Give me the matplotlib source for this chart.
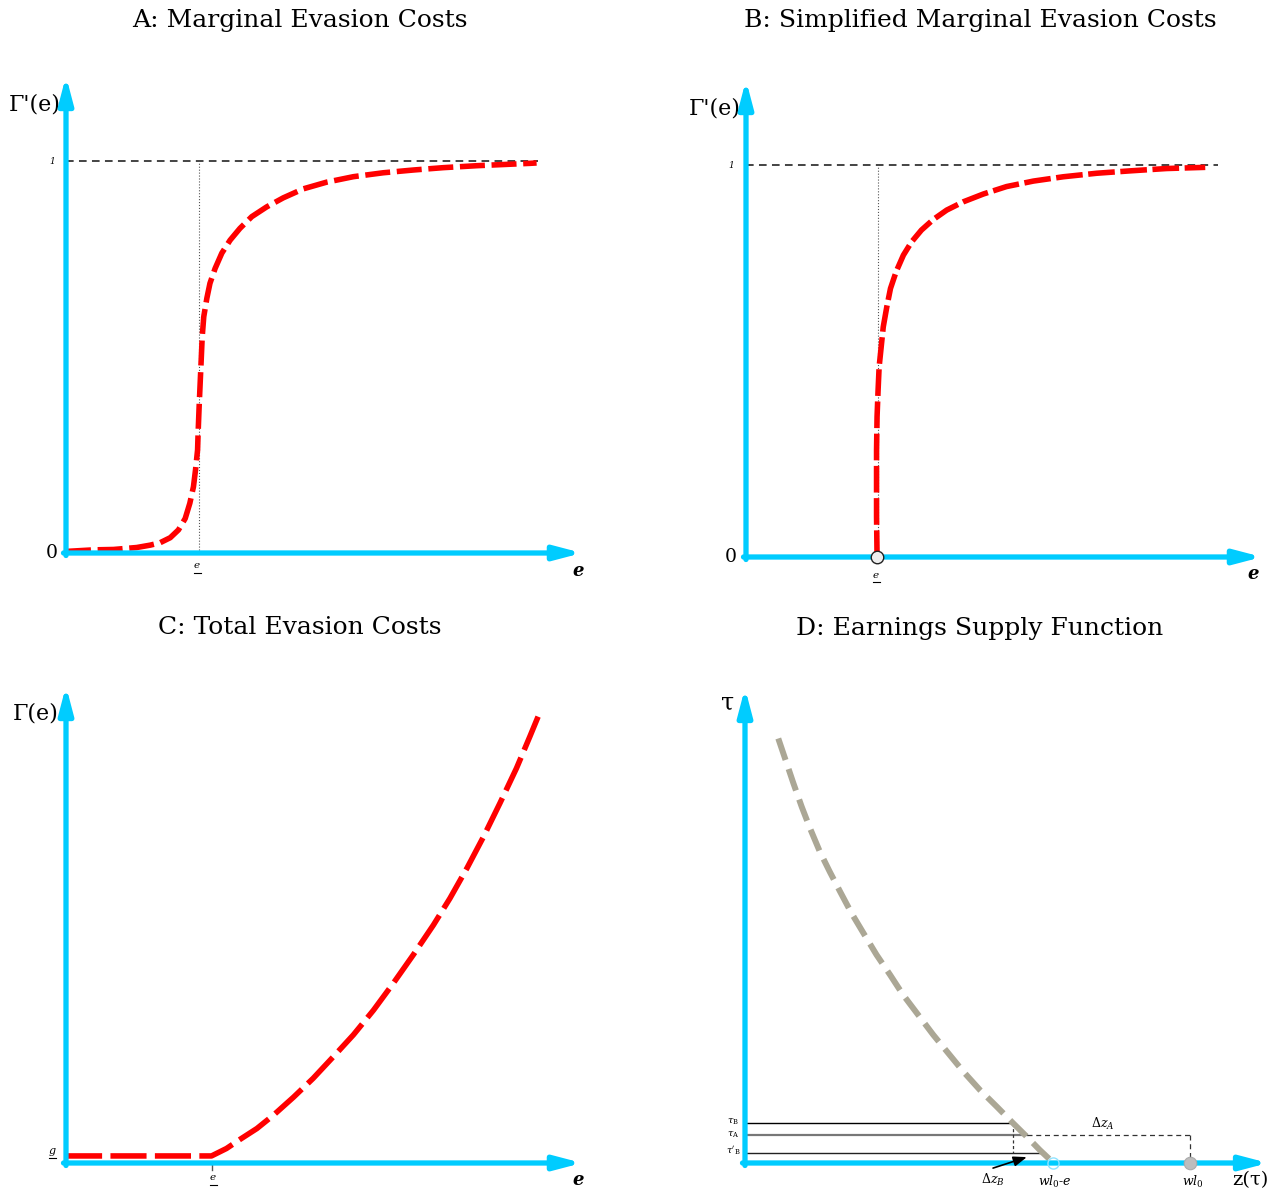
import matplotlib
matplotlib.use("Agg")
import matplotlib.pyplot as plt
import numpy as np

plt.rcParams['font.family'] = ['DejaVu Serif']
plt.rcParams['mathtext.fontset'] = 'dejavuserif'

# ---------------- data ----------------
titles = ["A: Marginal Evasion Costs", "B: Simplified Marginal Evasion Costs",
          "C: Total Evasion Costs", "D: Earnings Supply Function"]

# Panel A: marginal evasion cost Γ'(e)
a_e = [0.0, 0.053, 0.092, 0.137, 0.163, 0.182, 0.202, 0.218, 0.231, 0.240, 0.247,
       0.251, 0.255, 0.256, 0.258, 0.260, 0.262, 0.264, 0.267, 0.273, 0.279, 0.289,
       0.302, 0.318, 0.337, 0.360, 0.389, 0.421, 0.460, 0.505, 0.557, 0.615, 0.673,
       0.731, 0.796, 0.899, 0.912]
a_g = [0.004, 0.008, 0.009, 0.014, 0.020, 0.026, 0.039, 0.059, 0.088, 0.127, 0.169,
       0.212, 0.263, 0.305, 0.373, 0.433, 0.492, 0.552, 0.603, 0.650, 0.688, 0.726,
       0.765, 0.798, 0.828, 0.858, 0.883, 0.906, 0.929, 0.946, 0.960, 0.970, 0.977,
       0.983, 0.988, 0.994, 0.995]
a_elow = 0.258

# Panel B: simplified marginal evasion cost
b_e = [0.254, 0.253, 0.253, 0.253, 0.254, 0.256, 0.258, 0.262, 0.266, 0.273, 0.280,
       0.291, 0.305, 0.321, 0.340, 0.363, 0.389, 0.421, 0.460, 0.505, 0.557, 0.615,
       0.680, 0.744, 0.815, 0.890]
b_g = [0.0, 0.103, 0.188, 0.273, 0.358, 0.426, 0.485, 0.536, 0.587, 0.639, 0.685,
       0.728, 0.770, 0.804, 0.834, 0.861, 0.885, 0.906, 0.926, 0.945, 0.959, 0.970,
       0.979, 0.985, 0.991, 0.994]
b_elow = 0.254

# Panel C: total evasion cost Γ(e)
c_e = [0.0, 0.282, 0.311, 0.337, 0.370, 0.402, 0.441, 0.479, 0.518, 0.557, 0.596,
       0.634, 0.673, 0.712, 0.744, 0.777, 0.809, 0.841, 0.873, 0.899, 0.915]
c_g = [0.018, 0.018, 0.037, 0.060, 0.088, 0.122, 0.168, 0.216, 0.271, 0.327, 0.390,
       0.458, 0.531, 0.607, 0.675, 0.752, 0.832, 0.918, 1.007, 1.088, 1.139]
c_elow = 0.283
c_glow = 0.018

# Panel D: earnings supply function z(τ)
d_z = [0.064, 0.077, 0.093, 0.109, 0.125, 0.144, 0.163, 0.183, 0.205, 0.228, 0.253,
       0.279, 0.304, 0.333, 0.362, 0.391, 0.420, 0.452, 0.484, 0.516, 0.542, 0.567,
       0.587]
d_t = [1.083, 1.032, 0.969, 0.909, 0.854, 0.794, 0.743, 0.692, 0.637, 0.586, 0.531,
       0.480, 0.429, 0.378, 0.327, 0.280, 0.233, 0.186, 0.144, 0.101, 0.067, 0.033,
       0.008]
tau_B, tau_A, tau_Bp = 0.101, 0.071, 0.025
z_B, z_A, z_Bp = 0.516, 0.542, 0.577
wl0_e, wl0 = 0.592, 0.856

# ---------------- layout ----------------
W, H = 1278, 1192
fig = plt.figure(figsize=(W / 100, H / 100), dpi=100)

CYAN = '#00CCFF'
RED = '#FF0000'
KHAKI = '#ABA795'
PX = 392.0  # pixels per y unit


def make_ax(ox, oy, wpx, ytop):
    ax = fig.add_axes([ox / W, (H - oy) / H, wpx / W, ytop * PX / H])
    ax.set_xlim(0, 1)
    ax.set_ylim(0, ytop)
    ax.axis('off')
    return ax


def axes_arrows(ax, xend, ytop, wpx):
    dx = 2.5 / wpx
    dy = 2.5 / PX
    st = "-|>,head_length=1.6,head_width=0.42"
    ax.annotate("", xy=(xend, 0), xytext=(-dx, 0),
                arrowprops=dict(arrowstyle=st, color=CYAN, lw=3.8,
                                shrinkA=0, shrinkB=0, mutation_scale=10),
                annotation_clip=False, zorder=4)
    ax.annotate("", xy=(0, ytop), xytext=(0, -dy),
                arrowprops=dict(arrowstyle=st, color=CYAN, lw=3.8,
                                shrinkA=0, shrinkB=0, mutation_scale=10),
                annotation_clip=False, zorder=4)


def under_text(ax, x, y, s, wpx, fs=7.5):
    ax.text(x, y, s, fontsize=fs, style='italic', ha='center', va='center')
    hw = 3.5 / wpx
    yl = y - 7.0 / PX
    ax.plot([x - hw, x + hw], [yl, yl], color='black', lw=0.8, clip_on=False)


lbl_fs = 16
small_fs = 6.5
zero_fs = 13.5

# Panel A
axA = make_ax(66, 553, 516, 1.217)
axA.plot([0, 0.915], [1, 1], color='#111111', lw=1.1, dashes=(5, 3.5), zorder=2)
axA.plot([a_elow, a_elow], [0, 1], color='#555555', lw=0.8, ls=':', zorder=2)
axA.plot(a_e, a_g, color=RED, lw=4.0, dashes=(4.5, 1.2), zorder=3, clip_on=False,
         solid_joinstyle='round')
axes_arrows(axA, 1.0, 1.217, 516)
axA.text(-0.060, 1.145, "Γ'(e)", fontsize=lbl_fs, ha='center', va='center')
axA.text(-0.027, 1.0, "1", fontsize=small_fs, style='italic', ha='center', va='center')
axA.text(-0.027, 0.0, "0", fontsize=zero_fs, ha='center', va='center')
under_text(axA, a_elow - 0.004, -0.033, "e", 516)
axA.text(0.992, -0.046, "e", fontsize=13, style='italic', weight='bold', ha='center', va='center')

# Panel B
axB = make_ax(746, 557, 516, 1.217)
axB.plot([0, 0.915], [1, 1], color='#111111', lw=1.1, dashes=(5, 3.5), zorder=2)
axB.plot([b_elow + 0.002, b_elow + 0.002], [0, 1], color='#555555', lw=0.8, ls=':', zorder=2)
axB.plot(b_e, b_g, color=RED, lw=4.0, dashes=(4.8, 1.0), zorder=3, clip_on=False)
axes_arrows(axB, 1.0, 1.217, 516)
axB.plot([b_elow], [0], marker='o', ms=9, mfc='#EEEEEE', mec='#222222', mew=1.0,
         zorder=6, clip_on=False)
axB.text(-0.060, 1.143, "Γ'(e)", fontsize=lbl_fs, ha='center', va='center')
axB.text(-0.029, 1.0, "1", fontsize=small_fs, style='italic', ha='center', va='center')
axB.text(-0.029, 0.0, "0", fontsize=zero_fs, ha='center', va='center')
under_text(axB, b_elow - 0.002, -0.046, "e", 516)
axB.text(0.982, -0.043, "e", fontsize=13, style='italic', weight='bold', ha='center', va='center')

# Panel C
axC = make_ax(66, 1163, 516, 1.217)
axC.plot([c_elow, c_elow], [0, -0.018], color='#555555', lw=1.0, clip_on=False, zorder=2)
axC.plot(c_e, c_g, color=RED, lw=4.0, dashes=(6.5, 1.5), zorder=3, clip_on=False)
axes_arrows(axC, 1.0, 1.217, 516)
axC.text(-0.058, 1.146, "Γ(e)", fontsize=lbl_fs, ha='center', va='center')
under_text(axC, -0.027, c_glow + 0.012, "g", 516, fs=8)
under_text(axC, c_elow + 0.002, -0.038, "e", 516)
axC.text(0.992, -0.043, "e", fontsize=13, style='italic', weight='bold', ha='center', va='center')

# Panel D
axD = make_ax(745, 1163, 520, 1.212)
axD.plot([0, z_B], [tau_B, tau_B], color='black', lw=1.0, zorder=2)
axD.plot([0, z_A], [tau_A, tau_A], color='#777777', lw=1.6, zorder=2)
axD.plot([z_A, wl0], [tau_A, tau_A], color='#333333', lw=0.9, dashes=(4, 3), zorder=2)
axD.plot([wl0, wl0], [tau_A, 0], color='#333333', lw=0.9, dashes=(4, 3), zorder=2)
axD.plot([0, z_Bp], [tau_Bp, tau_Bp], color='#222222', lw=1.0, zorder=2)
axD.plot([z_B, z_B], [tau_B, tau_Bp], color='#333333', lw=0.9, dashes=(2.5, 2), zorder=2)
axD.plot(d_z, d_t, color=KHAKI, lw=4.3, dashes=(3.8, 1.6), zorder=3, clip_on=False)
axes_arrows(axD, 1.006, 1.212, 520)
axD.plot([wl0_e], [0], marker='o', ms=8, mfc='none', mec='#8FE3FF', mew=1.0,
         zorder=6, clip_on=False)
axD.plot([wl0], [0], marker='o', ms=9, mfc='#BDBDBD', mec='#AAAAAA', mew=0.8,
         zorder=6, clip_on=False)
axD.annotate("", xy=(0.542, 0.015), xytext=(0.477, -0.013),
             arrowprops=dict(arrowstyle="-|>,head_length=0.8,head_width=0.3", color='black',
                             lw=1.2, shrinkA=0, shrinkB=0, mutation_scale=10),
             annotation_clip=False, zorder=7)
axD.text(-0.033, 1.173, "τ", fontsize=17, ha='center', va='center')
axD.text(-0.023, 0.105, r"$\tau_{\rm B}$", fontsize=7, ha='center', va='center')
axD.text(-0.023, 0.072, r"$\tau_{\rm A}$", fontsize=7, ha='center', va='center')
axD.text(-0.023, 0.031, r"$\tau'_{\rm B}$", fontsize=7, ha='center', va='center')
axD.text(0.688, 0.099, r"$\Delta z_A$", fontsize=9, ha='center', va='center')
axD.text(0.477, -0.043, r"$\Delta z_B$", fontsize=9, ha='center', va='center')
axD.text(0.596, -0.048, r"$wl_0$-$e$", fontsize=9, ha='center', va='center')
axD.text(0.862, -0.048, r"$wl_0$", fontsize=9, ha='center', va='center')
axD.text(0.971, -0.043, "z(τ)", fontsize=14, ha='center', va='center')

# Titles
title_pos = [(300, 20), (980, 20), (300, 628), (980, 628)]
for t, (px, py) in zip(titles, title_pos):
    fig.text(px / W, 1 - py / H, t, fontsize=18, ha='center', va='center')

fig.savefig("out.png", dpi=100, facecolor='white')
